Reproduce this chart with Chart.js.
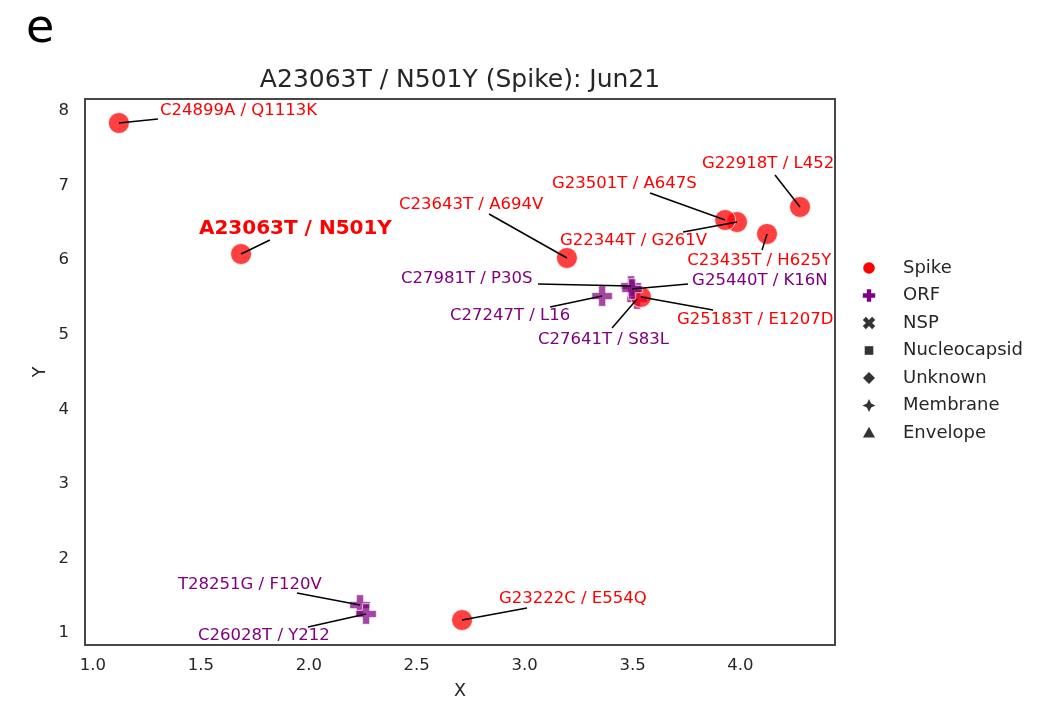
<!DOCTYPE html>
<html>
<head>
<meta charset="utf-8">
<script src="https://cdn.jsdelivr.net/npm/chart.js@4/dist/chart.umd.min.js"></script>
<style>
  html, body { margin: 0; padding: 0; background: #ffffff; }
  #wrap { width: 1062px; height: 702px; position: relative; }
</style>
</head>
<body>
<div id="wrap"><canvas id="chart" width="1062" height="702"></canvas></div>
<script>
// ---- data (rows in drawing order) ----
const mutations = [
  'C24899A / Q1113K', 'A23063T / N501Y', 'C23643T / A694V', 'G22918T / L452',
  'C23435T / H625Y', 'G22344T / G261V', 'G23501T / A647S', 'C27247T / L16',
  'C27641T / S83L', 'G25183T / E1207D', 'C27981T / P30S', 'G25440T / K16N',
  'T28251G / F120V', 'C26028T / Y212', 'G23222C / E554Q'
];
const categories = [
  'Spike', 'Spike', 'Spike', 'Spike',
  'Spike', 'Spike', 'Spike', 'ORF',
  'ORF', 'Spike', 'ORF', 'ORF',
  'ORF', 'ORF', 'Spike'
];
const xValues = [1.12, 1.686, 3.196, 4.276, 4.123, 3.984, 3.929, 3.359, 3.521, 3.539, 3.493, 3.498, 2.237, 2.265, 2.710];
const yValues = [7.839, 6.082, 6.029, 6.713, 6.351, 6.511, 6.538, 5.519, 5.479, 5.506, 5.653, 5.613, 1.375, 1.255, 1.174];

const legendCategories = ['Spike', 'ORF', 'NSP', 'Nucleocapsid', 'Unknown', 'Membrane', 'Envelope'];
const xTicks = [1.0, 1.5, 2.0, 2.5, 3.0, 3.5, 4.0];
const yTicks = [1, 2, 3, 4, 5, 6, 7, 8];
const focusMutation = 'A23063T / N501Y';
const chartTitle = 'A23063T / N501Y (Spike): Jun21';
const panelLetter = 'e';

// ---- label layout: text anchor (left, middle) and leader-line start, in axis units ----
const labelText = [
  [1.310, 8.000], [1.491, 6.420], [2.418, 6.740], [3.822, 7.290],
  [3.753, 5.990], [3.164, 6.257], [3.127, 7.021], [2.654, 5.251],
  [3.062, 4.929], [3.706, 5.198], [2.427, 5.748], [3.776, 5.721],
  [1.394, 1.644], [1.487, 0.960], [2.881, 1.456]
];
const labelLine = [
  [1.301, 7.893], [1.820, 6.270], [2.835, 6.619], [4.160, 7.142],
  [4.100, 6.136], [3.734, 6.377], [3.581, 6.900], [3.118, 5.372],
  [3.405, 5.090], [3.873, 5.331], [3.062, 5.680], [3.757, 5.680],
  [1.945, 1.536], [1.996, 1.080], [3.011, 1.335]
];

// ---- styling ----
const FONT = "'DejaVu Sans', 'Liberation Sans', sans-serif";
const INK = '#262626';
const catColor = { Spike: '#ff0000', ORF: '#800080' };
const catFill = { Spike: 'rgba(255,0,0,0.75)', ORF: 'rgba(128,0,128,0.72)' };
const legendInk = '#333333';

function plusPath(g, h, a) {
  g.beginPath();
  g.moveTo(-a, -h); g.lineTo(a, -h); g.lineTo(a, -a); g.lineTo(h, -a);
  g.lineTo(h, a); g.lineTo(a, a); g.lineTo(a, h); g.lineTo(-a, h);
  g.lineTo(-a, a); g.lineTo(-h, a); g.lineTo(-h, -a); g.lineTo(-a, -a);
  g.closePath();
}

// filled plus glyph used for ORF points
const plusMarker = (() => {
  const c = document.createElement('canvas');
  c.width = 26; c.height = 26;
  const g = c.getContext('2d');
  g.translate(13, 13);
  plusPath(g, 10.3, 3.6);
  g.fillStyle = catFill.ORF;
  g.fill();
  g.strokeStyle = 'rgba(255,255,255,0.7)';
  g.lineWidth = 1;
  g.stroke();
  return c;
})();

function drawLegendMarker(g, kind, x, y) {
  g.save();
  g.translate(x, y);
  g.fillStyle = kind === 'Spike' ? catColor.Spike : kind === 'ORF' ? catColor.ORF : legendInk;
  switch (kind) {
    case 'Spike':
      g.beginPath(); g.arc(0, 0, 5.8, 0, Math.PI * 2); g.fill(); break;
    case 'ORF':
      plusPath(g, 6.2, 2.2); g.fill(); break;
    case 'NSP':
      g.rotate(Math.PI / 4); plusPath(g, 6.6, 2.2); g.fill(); break;
    case 'Nucleocapsid':
      g.fillRect(-4.3, -4.3, 8.6, 8.6); break;
    case 'Unknown':
      g.beginPath(); g.moveTo(0, -6); g.lineTo(6, 0); g.lineTo(0, 6); g.lineTo(-6, 0); g.closePath(); g.fill(); break;
    case 'Membrane': {
      g.beginPath();
      for (let i = 0; i < 8; i++) {
        const r = i % 2 === 0 ? 6.5 : 3.0;
        const ang = -Math.PI / 2 + i * Math.PI / 4;
        const px = r * Math.cos(ang), py = r * Math.sin(ang);
        if (i === 0) g.moveTo(px, py); else g.lineTo(px, py);
      }
      g.closePath(); g.fill(); break;
    }
    case 'Envelope':
      g.beginPath(); g.moveTo(0, -6.2); g.lineTo(6, 4.6); g.lineTo(-6, 4.6); g.closePath(); g.fill(); break;
  }
  g.restore();
}

// frame, panel letter, mutation labels and legend
const decorations = {
  id: 'decorations',
  beforeDraw(chart) {
    const g = chart.ctx;
    g.save();
    g.fillStyle = '#ffffff';
    g.fillRect(0, 0, chart.width, chart.height);
    g.restore();
  },
  afterDatasetsDraw(chart) {
    const g = chart.ctx;
    const xs = chart.scales.x, ys = chart.scales.y;
    g.save();
    // leader lines
    g.strokeStyle = '#000000';
    g.lineWidth = 1.5;
    mutations.forEach((m, i) => {
      g.beginPath();
      g.moveTo(xs.getPixelForValue(labelLine[i][0]), ys.getPixelForValue(labelLine[i][1]));
      g.lineTo(xs.getPixelForValue(xValues[i]), ys.getPixelForValue(yValues[i]));
      g.stroke();
    });
    // label texts
    g.textAlign = 'left';
    g.textBaseline = 'middle';
    mutations.forEach((m, i) => {
      g.font = m === focusMutation ? `bold 20px ${FONT}` : `16.5px ${FONT}`;
      g.fillStyle = catColor[categories[i]];
      g.fillText(m, xs.getPixelForValue(labelText[i][0]), ys.getPixelForValue(labelText[i][1]));
    });
    g.restore();
  },
  afterDraw(chart) {
    const g = chart.ctx;
    const a = chart.chartArea;
    g.save();
    // axes frame
    g.strokeStyle = '#333333';
    g.lineWidth = 1.8;
    g.strokeRect(a.left, a.top, a.right - a.left, a.bottom - a.top);
    // panel letter
    g.fillStyle = '#000000';
    g.font = `46px ${FONT}`;
    g.textAlign = 'left';
    g.textBaseline = 'alphabetic';
    g.fillText(panelLetter, 26, 42);
    // legend
    const mx = a.right + 34, tx = a.right + 68, y0 = a.top + 169, dy = 27.5;
    g.font = `18px ${FONT}`;
    g.textBaseline = 'middle';
    legendCategories.forEach((c, i) => {
      drawLegendMarker(g, c, mx, y0 + i * dy);
      g.fillStyle = INK;
      g.fillText(c, tx, y0 + i * dy);
    });
    g.restore();
  }
};

const points = xValues.map((x, i) => ({ x, y: yValues[i] }));

new Chart(document.getElementById('chart'), {
  type: 'scatter',
  data: {
    datasets: [{
      label: 'mutations',
      data: points,
      pointStyle: ctx => categories[ctx.dataIndex] === 'ORF' ? plusMarker : 'circle',
      pointRadius: 10.5,
      pointHoverRadius: 10.5,
      backgroundColor: ctx => catFill[categories[ctx.dataIndex]],
      borderColor: 'rgba(255,255,255,0.75)',
      borderWidth: 1
    }]
  },
  options: {
    responsive: false,
    animation: false,
    devicePixelRatio: 1,
    layout: { padding: { top: 0, right: 227, bottom: 0, left: 0 } },
    plugins: {
      legend: { display: false },
      tooltip: { enabled: false },
      title: {
        display: true,
        text: chartTitle,
        fullSize: false,
        color: INK,
        font: { family: FONT, size: 25, weight: 'normal' },
        padding: { top: 65, bottom: 4 }
      }
    },
    scales: {
      x: {
        type: 'linear',
        min: 0.963,
        max: 4.438,
        afterBuildTicks: s => { s.ticks = xTicks.map(v => ({ value: v })); },
        afterFit: s => { s.height = 57; },
        grid: { display: false, drawTicks: false },
        border: { display: false },
        ticks: {
          autoSkip: false,
          padding: 11,
          color: INK,
          font: { family: FONT, size: 16.5 },
          callback: v => Number(v).toFixed(1)
        },
        title: {
          display: true, text: 'X', color: INK,
          font: { family: FONT, size: 17.5 },
          padding: { top: 0, bottom: 0 }
        }
      },
      y: {
        type: 'linear',
        min: 0.839,
        max: 8.161,
        afterBuildTicks: s => { s.ticks = yTicks.map(v => ({ value: v })); },
        afterFit: s => { s.width = 85; },
        grid: { display: false, drawTicks: false },
        border: { display: false },
        ticks: {
          autoSkip: false,
          padding: 16,
          color: INK,
          font: { family: FONT, size: 16.5 },
          callback: v => String(v)
        },
        title: {
          display: true, text: 'Y', color: INK,
          font: { family: FONT, size: 17.5 },
          padding: { top: 30, bottom: 0 }
        }
      }
    }
  },
  plugins: [decorations]
});
</script>
</body>
</html>
